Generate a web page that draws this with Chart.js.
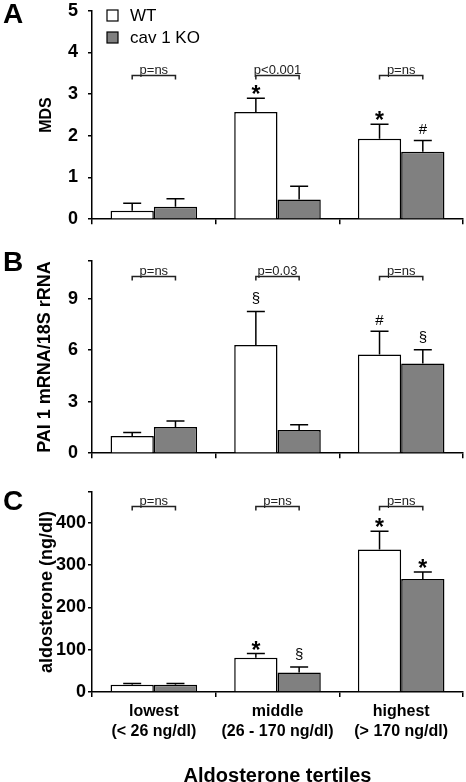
<!DOCTYPE html>
<html>
<head>
<meta charset="utf-8">
<script src="https://cdn.jsdelivr.net/npm/chart.js@4.4.1/dist/chart.umd.min.js"></script>
<style>
  html, body { margin: 0; padding: 0; background: #fff; }
  body { width: 466px; height: 782px; position: relative; overflow: hidden; }
  canvas { position: absolute; left: 0; }
</style>
</head>
<body>
<canvas id="panelA" width="466" height="250" style="top:-10px"></canvas>
<canvas id="panelB" width="466" height="234" style="top:240px"></canvas>
<canvas id="panelC" width="466" height="308" style="top:474px"></canvas>
<script>
const FONT = '"Liberation Sans", Arial, sans-serif';

const categories = [['lowest', '(< 26 ng/dl)'], ['middle', '(26 - 170 ng/dl)'], ['highest', '(> 170 ng/dl)']];
const seriesNames = ['WT', 'cav 1 KO'];

// Panel A - MDS (mean and SEM)
const mdsWT = [0.2, 2.57, 1.93];
const mdsWTSem = [0.18, 0.33, 0.35];
const mdsKO = [0.3, 0.47, 1.62];
const mdsKOSem = [0.19, 0.32, 0.27];
const mdsWTMarks = ['', '*', '*'];
const mdsKOMarks = ['', '', '#'];
const mdsP = ['p=ns', 'p<0.001', 'p=ns'];

// Panel B - PAI 1 mRNA
const paiWT = [1.0, 6.3, 5.75];
const paiWTSem = [0.2, 1.95, 1.35];
const paiKO = [1.52, 1.35, 5.22];
const paiKOSem = [0.35, 0.3, 0.8];
const paiWTMarks = ['', '§', '#'];
const paiKOMarks = ['', '', '§'];
const paiP = ['p=ns', 'p=0.03', 'p=ns'];

// Panel C - aldosterone
const aldoWT = [17, 81, 337];
const aldoWTSem = [3, 10, 43];
const aldoKO = [17, 46, 267];
const aldoKOSem = [3, 13, 17];
const aldoWTMarks = ['', '*', '*'];
const aldoKOMarks = ['', '§', '*'];
const aldoP = ['p=ns', 'p=ns', 'p=ns'];

// error bars, significance marks, p brackets, panel letter, legend
const extrasPlugin = {
  id: 'extras',
  afterDatasetsDraw(chart, args, opts) {
    const ctx = chart.ctx;
    const y = chart.scales.y;
    ctx.save();
    chart.data.datasets.forEach((ds, i) => {
      const meta = chart.getDatasetMeta(i);
      meta.data.forEach((bar, j) => {
        const top = y.getPixelForValue(ds.data[j] + opts.sems[i][j]);
        ctx.strokeStyle = '#000';
        ctx.lineWidth = 1.5;
        ctx.beginPath();
        ctx.moveTo(bar.x, bar.y);
        ctx.lineTo(bar.x, top);
        ctx.moveTo(bar.x - 9, top);
        ctx.lineTo(bar.x + 9, top);
        ctx.stroke();

        const mark = opts.marks[i][j];
        if (!mark) return;
        ctx.fillStyle = '#000';
        ctx.textAlign = 'center';
        ctx.textBaseline = 'alphabetic';
        if (mark === '*') {
          ctx.font = 'bold 23px ' + FONT;
          ctx.fillText(mark, bar.x, top + 4);
        } else if (mark === '#') {
          ctx.font = '15px ' + FONT;
          ctx.fillText(mark, bar.x, top - 6);
        } else {
          ctx.font = '15px ' + FONT;
          ctx.fillText(mark, bar.x, top - 8);
        }
      });
    });

    // p-value brackets
    const by = Math.round(y.getPixelForValue(opts.bracketLevel)) + 0.5;
    const m0 = chart.getDatasetMeta(0).data;
    const m1 = chart.getDatasetMeta(1).data;
    chart.data.labels.forEach((_, j) => {
      const x1 = m0[j].x, x2 = m1[j].x;
      ctx.strokeStyle = '#222';
      ctx.lineWidth = 1.5;
      ctx.beginPath();
      ctx.moveTo(x1, by + 4);
      ctx.lineTo(x1, by);
      ctx.lineTo(x2, by);
      ctx.lineTo(x2, by + 4);
      ctx.stroke();
      ctx.font = '13px ' + FONT;
      ctx.fillStyle = '#222';
      ctx.textAlign = 'center';
      ctx.textBaseline = 'alphabetic';
      ctx.fillText(opts.pLabels[j], (x1 + x2) / 2, by - 2);
    });

    // panel letter
    ctx.font = 'bold 28px ' + FONT;
    ctx.fillStyle = '#000';
    ctx.textAlign = 'center';
    ctx.textBaseline = 'middle';
    ctx.fillText(opts.letter, 13, opts.letterY);

    if (opts.legend) {
      const colors = ['#ffffff', '#808080'];
      seriesNames.forEach((name, i) => {
        const yy = 20 + i * 22;
        ctx.fillStyle = colors[i];
        ctx.fillRect(107, yy, 11, 11);
        ctx.strokeStyle = '#000';
        ctx.lineWidth = 1.2;
        ctx.strokeRect(107, yy, 11, 11);
        ctx.fillStyle = '#000';
        ctx.font = '17px ' + FONT;
        ctx.textAlign = 'left';
        ctx.textBaseline = 'middle';
        ctx.fillText(name, 130, yy + 6);
      });
    }
    ctx.restore();
  }
};

function makePanel(id, cfg) {
  return new Chart(document.getElementById(id), {
    type: 'bar',
    data: {
      labels: categories,
      datasets: [
        { label: seriesNames[0], data: cfg.wt, backgroundColor: '#ffffff', borderColor: '#000', borderWidth: 1.5 },
        { label: seriesNames[1], data: cfg.ko, backgroundColor: '#808080', borderColor: '#000', borderWidth: 1.5 }
      ]
    },
    options: {
      responsive: false,
      animation: false,
      devicePixelRatio: 1,
      layout: { padding: { left: 0, right: 3, top: cfg.padTop, bottom: 0 } },
      datasets: { bar: { categoryPercentage: 0.7, barPercentage: 1.0 } },
      plugins: {
        legend: { display: false },
        tooltip: { enabled: false },
        extras: {
          sems: cfg.sems,
          marks: cfg.marks,
          pLabels: cfg.pLabels,
          bracketLevel: cfg.bracketLevel,
          letter: cfg.letter,
          letterY: cfg.letterY,
          legend: cfg.legend
        }
      },
      scales: {
        x: {
          grid: { display: true, drawOnChartArea: false, drawTicks: true, tickLength: 5, color: '#000', lineWidth: 1.5, offset: true },
          border: { color: '#000', width: 1.5 },
          ticks: { display: cfg.showX, color: '#000', padding: 5, maxRotation: 0, autoSkip: false,
                   font: { family: FONT, size: 16, weight: 'bold', lineHeight: 1.25 } },
          title: { display: cfg.showX, text: 'Aldosterone tertiles', color: '#000',
                   font: { family: FONT, size: 20, weight: 'bold' }, padding: { top: 0, bottom: -6 } },
          afterFit: s => { s.height = cfg.xHeight; }
        },
        y: {
          min: 0,
          max: cfg.max,
          ticks: { stepSize: cfg.step, color: '#000', padding: cfg.tickPad,
                   callback: v => (v % cfg.step === 0 ? v : ''),
                   font: { family: FONT, size: 18, weight: 'bold' } },
          grid: { drawOnChartArea: false, tickLength: 4, color: '#000', lineWidth: 1.5 },
          border: { color: '#000', width: 1.5 },
          title: { display: true, text: cfg.yTitle, color: '#000',
                   font: { family: FONT, size: cfg.titleSize, weight: 'bold' },
                   padding: { top: cfg.titlePad, bottom: 0 } },
          afterFit: s => { s.width = 92; }
        }
      }
    },
    plugins: [extrasPlugin]
  });
}

makePanel('panelA', {
  wt: mdsWT, ko: mdsKO, sems: [mdsWTSem, mdsKOSem], marks: [mdsWTMarks, mdsKOMarks],
  pLabels: mdsP, bracketLevel: 3.47, max: 5, step: 1, yTitle: 'MDS', titleSize: 16, titlePad: 37,
  tickPad: 10, padTop: 14, xHeight: 14, showX: false, letter: 'A', letterY: 25, legend: true
});

makePanel('panelB', {
  wt: paiWT, ko: paiKO, sems: [paiWTSem, paiKOSem], marks: [paiWTMarks, paiKOMarks],
  pLabels: paiP, bracketLevel: 10.33, max: 11.2, step: 3, yTitle: 'PAI 1 mRNA/18S rRNA', titleSize: 18, titlePad: 34,
  tickPad: 10, padTop: 18, xHeight: 14, showX: false, letter: 'B', letterY: 23, legend: false
});

makePanel('panelC', {
  wt: aldoWT, ko: aldoKO, sems: [aldoWTSem, aldoKOSem], marks: [aldoWTMarks, aldoKOMarks],
  pLabels: aldoP, bracketLevel: 439, max: 473, step: 100, yTitle: 'aldosterone (ng/dl)', titleSize: 18, titlePad: 36,
  tickPad: 2, padTop: 18, xHeight: 90, showX: true, letter: 'C', letterY: 28, legend: false
});
</script>
</body>
</html>
